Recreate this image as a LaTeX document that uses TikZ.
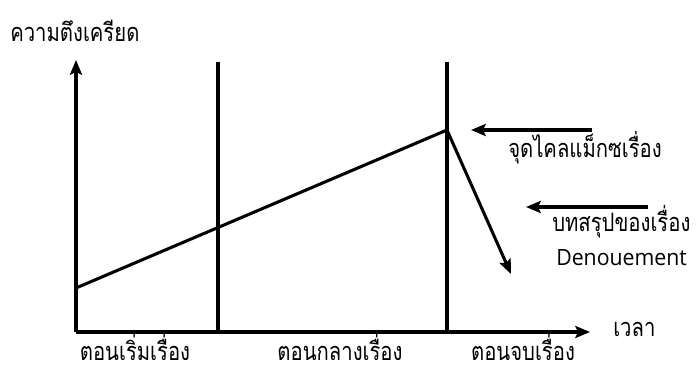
\documentclass[tikz,border=0pt]{standalone}
\usepackage{fontspec}
\setmainfont[Script=Thai,FakeStretch=0.8]{Loma}
\newfontfamily\latinfont[FakeStretch=0.95]{Open Sans}
\usetikzlibrary{arrows.meta}
\tikzset{
  ln/.style={line width=2.3pt, line cap=butt},
  arr/.style={ln, -{Stealth[length=11pt,width=9pt,inset=2pt]}},
  lbl/.style={inner sep=0pt, font=\fontsize{19pt}{22pt}\selectfont},
  latlbl/.style={inner sep=0pt, font=\fontsize{16.8pt}{20pt}\latinfont},
}
\begin{document}
\begin{tikzpicture}[x=0.75pt,y=-0.75pt]
\useasboundingbox (0,0) rectangle (697,367);
% coordinates
\coordinate (O) at (76,332);
\coordinate (Ytop) at (76,60);
\coordinate (Xend) at (590,332);
\coordinate (v1b) at (218,332);
\coordinate (v1t) at (218,62);
\coordinate (v2b) at (447,332);
\coordinate (v2t) at (447,62);
\coordinate (start) at (76,288);
\coordinate (peak) at (447,130);
\coordinate (den) at (511,274);
\coordinate (a1s) at (592,130);
\coordinate (a1e) at (471,130);
\coordinate (a2s) at (648,207);
\coordinate (a2e) at (526,207);
% axes
\draw[arr] (O) -- (Ytop);
\draw[arr] (O) -- (Xend);
\draw[ln] (v1b) -- (v1t);
\draw[ln] (v2b) -- (v2t);
% tension line
\draw[ln, line join=miter] (start) -- (peak);
\draw[arr] (peak) -- (den);
% pointers
\draw[arr] (a1s) -- (a1e);
\draw[arr] (a2s) -- (a2e);
% labels
\node[lbl, anchor=base west] (title) at (10,42) {ความตึงเครียด};
\node[lbl, anchor=base west] (climax) at (508,158) {จุดไคลแม็กซเรื่อง};
\node[lbl, anchor=base west] (concl) at (552,232) {บทสรุปของเรื่อง};
\node[latlbl, anchor=base west] (denou) at (556,266) {Denouement};
\node[lbl, anchor=base west] (time) at (613,337) {เวลา};
\node[lbl, anchor=base] (p1) at (135,361) {ตอนเริ่มเรื่อง};
\node[lbl, anchor=base] (p2) at (340,361) {ตอนกลางเรื่อง};
\node[lbl, anchor=base] (p3) at (523,361) {ตอนจบเรื่อง};
\end{tikzpicture}
\end{document}
